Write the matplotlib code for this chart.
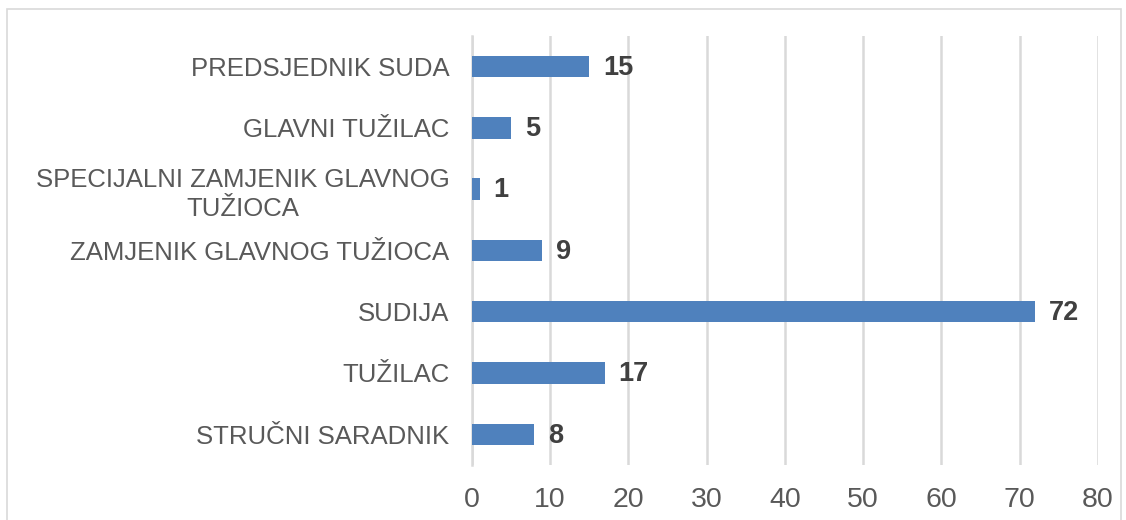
import matplotlib.pyplot as plt
from matplotlib.patches import Rectangle

plt.rcParams['font.family'] = ['Liberation Sans', 'DejaVu Sans']

categories = ['PREDSJEDNIK SUDA', 'GLAVNI TUŽILAC', 'SPECIJALNI ZAMJENIK GLAVNOG\nTUŽIOCA',
              'ZAMJENIK GLAVNOG TUŽIOCA', 'SUDIJA', 'TUŽILAC', 'STRUČNI SARADNIK']
values = [15, 5, 1, 9, 72, 17, 8]
x_ticks = [0, 10, 20, 30, 40, 50, 60, 70, 80]

bar_color = '#4F81BD'
grid_color = '#D9D9D9'

fig = plt.figure(figsize=(11.26, 5.2), dpi=100)
ax = fig.add_axes([0.419, 0.106, 0.556, 0.825])

# outer chart frame
fig.patches.append(Rectangle((7 / 1126, -0.05), 1114 / 1126, 1 - 9 / 520 + 0.05,
                             transform=fig.transFigure, fill=False,
                             edgecolor=grid_color, linewidth=1.2))

pos = list(range(len(categories)))
ax.barh(pos, values, height=0.35, color=bar_color, zorder=3)

for p, v in zip(pos, values):
    ax.annotate(str(v), (v, p), xytext=(10, -1), textcoords='offset points',
                va='center', ha='left', fontsize=19.5, fontweight='bold', color='#404040')

ax.set_xlim(0, 80)
ax.set_ylim(len(categories) - 0.5, -0.5)
ax.set_xticks(x_ticks)
ax.set_yticks(pos)
ax.set_yticklabels(categories, multialignment='center', linespacing=1.3)
ax.tick_params(axis='y', length=0, pad=16, labelsize=18.5, labelcolor='#595959')
ax.tick_params(axis='x', length=0, pad=16, labelsize=20.5, labelcolor='#595959')

ax.grid(axis='x', color=grid_color, linewidth=1.8, zorder=0)
for s in ['top', 'right', 'bottom']:
    ax.spines[s].set_visible(False)
ax.spines['left'].set_color(grid_color)
ax.spines['left'].set_linewidth(1.8)

fig.savefig('out.png', dpi=100)
